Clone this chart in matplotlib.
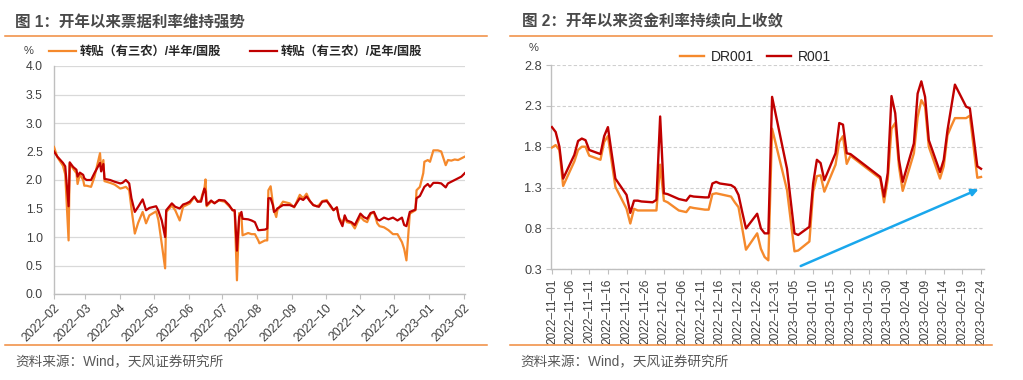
import matplotlib
matplotlib.use("Agg")
import matplotlib.pyplot as plt
import matplotlib.dates as mdates
from matplotlib.lines import Line2D
import pandas as pd

plt.rcParams['font.family'] = ['Liberation Sans', 'Noto Sans CJK SC', 'DejaVu Sans']
plt.rcParams['axes.unicode_minus'] = False

# ---------------- data: chart 1 ----------------
bill_dates = [
    "2022-02-01", "2022-02-04", "2022-02-09", "2022-02-11", "2022-02-14", "2022-02-15",
    "2022-02-18", "2022-02-21", "2022-02-22", "2022-02-24", "2022-02-27", "2022-02-28",
    "2022-03-02", "2022-03-06", "2022-03-09", "2022-03-14", "2022-03-15", "2022-03-17",
    "2022-03-18", "2022-03-23", "2022-03-27", "2022-04-01", "2022-04-03", "2022-04-06",
    "2022-04-09", "2022-04-11", "2022-04-14", "2022-04-17", "2022-04-21", "2022-04-24",
    "2022-04-27", "2022-05-03", "2022-05-05", "2022-05-08", "2022-05-11", "2022-05-12",
    "2022-05-17", "2022-05-20", "2022-05-24", "2022-05-27", "2022-05-30", "2022-06-02",
    "2022-06-06", "2022-06-09", "2022-06-12", "2022-06-13", "2022-06-15", "2022-06-16",
    "2022-06-17", "2022-06-21", "2022-06-24", "2022-06-28", "2022-07-03", "2022-07-07",
    "2022-07-10", "2022-07-12", "2022-07-14", "2022-07-16", "2022-07-18", "2022-07-19",
    "2022-07-24", "2022-07-27", "2022-07-30", "2022-08-02", "2022-08-03", "2022-08-08",
    "2022-08-10", "2022-08-11", "2022-08-13", "2022-08-15", "2022-08-16", "2022-08-18",
    "2022-08-19", "2022-08-24", "2022-08-30", "2022-09-03", "2022-09-08", "2022-09-11",
    "2022-09-14", "2022-09-17", "2022-09-20", "2022-09-23", "2022-09-25", "2022-09-28",
    "2022-10-02", "2022-10-05", "2022-10-08", "2022-10-11", "2022-10-13", "2022-10-16",
    "2022-10-18", "2022-10-20", "2022-10-24", "2022-10-27", "2022-10-29", "2022-11-01",
    "2022-11-04", "2022-11-07", "2022-11-10", "2022-11-13", "2022-11-16", "2022-11-18",
    "2022-11-22", "2022-11-26", "2022-11-30", "2022-12-04", "2022-12-08", "2022-12-10",
    "2022-12-12", "2022-12-15", "2022-12-20", "2022-12-21", "2022-12-24", "2022-12-27",
    "2022-12-28", "2022-12-31", "2023-01-02", "2023-01-05", "2023-01-09", "2023-01-12",
    "2023-01-16", "2023-01-18", "2023-01-21", "2023-01-24", "2023-01-27", "2023-01-30",
    "2023-02-02",
]
half_year = [
    2.58, 2.40, 2.25, 2.10, 0.94, 2.29,
    2.20, 2.12, 1.93, 2.10, 2.00, 1.90,
    1.90, 1.88, 2.05, 2.47, 2.20, 2.35,
    1.98, 1.95, 1.92, 1.85, 1.86, 1.88,
    1.82, 1.50, 1.06, 1.25, 1.44, 1.24,
    1.38, 1.45, 1.30, 0.88, 0.45, 1.44,
    1.55, 1.47, 1.29, 1.53, 1.56, 1.59,
    1.70, 1.62, 1.65, 1.74, 1.85, 2.01,
    1.54, 1.62, 1.60, 1.64, 1.62, 1.54,
    1.48, 1.44, 0.24, 1.42, 1.35, 1.03,
    1.07, 1.05, 1.05, 0.94, 0.89, 0.94,
    0.94, 1.82, 1.89, 1.59, 1.47, 1.35,
    1.47, 1.62, 1.59, 1.52, 1.74, 1.68,
    1.76, 1.63, 1.56, 1.54, 1.56, 1.63,
    1.65, 1.54, 1.47, 1.52, 1.34, 1.24,
    1.35, 1.26, 1.24, 1.15, 1.24, 1.36,
    1.29, 1.26, 1.40, 1.44, 1.24, 1.19,
    1.17, 1.12, 1.05, 1.05, 0.91, 0.79,
    0.59, 1.41, 1.47, 1.82, 1.88, 2.12,
    2.32, 2.35, 2.32, 2.52, 2.52, 2.50,
    2.26, 2.35, 2.34, 2.36, 2.35, 2.38,
    2.41,
]
full_year = [
    2.50, 2.41, 2.30, 2.24, 1.54, 2.31,
    2.23, 2.18, 2.06, 2.13, 2.09, 2.03,
    2.00, 2.00, 2.12, 2.30, 2.15, 2.28,
    2.02, 2.00, 1.97, 1.94, 1.95, 2.00,
    1.94, 1.68, 1.44, 1.53, 1.66, 1.47,
    1.51, 1.54, 1.46, 1.29, 1.00, 1.47,
    1.59, 1.53, 1.50, 1.57, 1.59, 1.62,
    1.71, 1.62, 1.62, 1.70, 1.85, 1.80,
    1.56, 1.64, 1.59, 1.65, 1.64, 1.56,
    1.47, 1.47, 0.76, 1.35, 1.44, 1.32,
    1.31, 1.29, 1.26, 1.12, 1.12, 1.13,
    1.15, 1.68, 1.68, 1.56, 1.44, 1.47,
    1.50, 1.56, 1.56, 1.53, 1.68, 1.65,
    1.71, 1.63, 1.56, 1.54, 1.53, 1.62,
    1.63, 1.56, 1.47, 1.52, 1.32, 1.19,
    1.38, 1.29, 1.26, 1.21, 1.29, 1.41,
    1.35, 1.32, 1.42, 1.44, 1.31, 1.29,
    1.34, 1.31, 1.34, 1.29, 1.34, 1.21,
    1.19, 1.44, 1.48, 1.68, 1.72, 1.84,
    1.88, 1.93, 1.88, 1.95, 1.95, 1.94,
    1.87, 1.94, 1.97, 2.00, 2.03, 2.06,
    2.12,
]
bill_labels = ["转贴（有三农）/半年/国股", "转贴（有三农）/足年/国股"]
bill_yticks = [0.0, 0.5, 1.0, 1.5, 2.0, 2.5, 3.0, 3.5, 4.0]

# ---------------- data: chart 2 ----------------
repo_dates = [
    "2022-11-01", "2022-11-02", "2022-11-03", "2022-11-04", "2022-11-07", "2022-11-08",
    "2022-11-09", "2022-11-10", "2022-11-11", "2022-11-14", "2022-11-15", "2022-11-16",
    "2022-11-17", "2022-11-18", "2022-11-21", "2022-11-22", "2022-11-23", "2022-11-24",
    "2022-11-25", "2022-11-28", "2022-11-29", "2022-11-30", "2022-12-01", "2022-12-02",
    "2022-12-05", "2022-12-06", "2022-12-07", "2022-12-08", "2022-12-09", "2022-12-12",
    "2022-12-13", "2022-12-14", "2022-12-15", "2022-12-16", "2022-12-19", "2022-12-20",
    "2022-12-21", "2022-12-22", "2022-12-23", "2022-12-26", "2022-12-27", "2022-12-28",
    "2022-12-29", "2022-12-30", "2023-01-03", "2023-01-05", "2023-01-06", "2023-01-09",
    "2023-01-10", "2023-01-11", "2023-01-12", "2023-01-13", "2023-01-16", "2023-01-17",
    "2023-01-18", "2023-01-19", "2023-01-20", "2023-01-28", "2023-01-29", "2023-01-30",
    "2023-01-31", "2023-02-01", "2023-02-02", "2023-02-03", "2023-02-06", "2023-02-07",
    "2023-02-08", "2023-02-09", "2023-02-10", "2023-02-13", "2023-02-14", "2023-02-15",
    "2023-02-16", "2023-02-17", "2023-02-20", "2023-02-21", "2023-02-22", "2023-02-23",
    "2023-02-24",
]
dr001 = [
    1.79, 1.82, 1.76, 1.32, 1.62, 1.76,
    1.80, 1.80, 1.69, 1.64, 1.86, 1.93,
    1.62, 1.31, 1.04, 0.86, 1.04, 1.02,
    1.02, 1.02, 1.02, 1.58, 1.14, 1.12,
    1.02, 1.01, 1.00, 1.06, 1.05, 1.03,
    1.03, 1.22, 1.23, 1.22, 1.19, 1.12,
    1.06, 0.80, 0.54, 0.74, 0.55, 0.45,
    0.41, 2.02, 1.27, 0.52, 0.53, 0.64,
    1.25, 1.44, 1.45, 1.25, 1.58, 1.86,
    1.93, 1.59, 1.69, 1.41, 1.12, 1.40,
    2.02, 2.09, 1.56, 1.26, 1.72, 2.16,
    2.37, 2.29, 1.80, 1.41, 1.56, 1.94,
    2.05, 2.15, 2.15, 2.18, 1.80, 1.42,
    1.43,
]
r001 = [
    2.04, 1.98, 1.80, 1.41, 1.70, 1.87,
    1.90, 1.88, 1.76, 1.71, 1.93, 2.04,
    1.72, 1.41, 1.21, 0.99, 1.14, 1.14,
    1.13, 1.12, 1.15, 2.17, 1.23, 1.22,
    1.16, 1.15, 1.14, 1.20, 1.19, 1.18,
    1.18, 1.35, 1.37, 1.35, 1.33, 1.30,
    1.21, 1.00, 0.80, 0.98, 0.80, 0.74,
    0.74, 2.41, 1.53, 0.74, 0.72, 0.82,
    1.35, 1.64, 1.60, 1.39, 1.72, 2.09,
    2.07, 1.72, 1.71, 1.43, 1.19, 1.48,
    2.42, 2.21, 1.64, 1.37, 1.84, 2.45,
    2.60, 2.41, 1.88, 1.49, 1.64, 2.00,
    2.28, 2.56, 2.29, 2.27, 1.92, 1.56,
    1.53,
]
repo_labels = ["DR001", "R001"]
repo_yticks = [0.3, 0.8, 1.3, 1.8, 2.3, 2.8]
arrow_start = ("2023-01-06 16:00", 0.34)
arrow_end = ("2023-02-23 08:00", 1.28)

# ---------------- styles ----------------
ORANGE = "#F5892C"
RED = "#C00000"
TXT = "#404040"
SPINE = "#BFBFBF"
GRID = "#D9D9D9"
SEP = "#F08A3C"

W, H = 1023, 380
fig = plt.figure(figsize=(W / 100, H / 100), dpi=100)


def fx(px):
    return px / W


def fy(py):
    return 1 - py / H


# titles and separators
fig.text(fx(15), fy(22), "图 1：开年以来票据利率维持强势", fontsize=11.2, fontweight="bold",
         color="#4A4A4A", va="center", ha="left")
fig.text(fx(522), fy(22), "图 2：开年以来资金利率持续向上收敛", fontsize=11.2, fontweight="bold",
         color="#4A4A4A", va="center", ha="left")
for x0, x1 in [(5, 487), (510, 992)]:
    fig.add_artist(Line2D([fx(x0), fx(x1)], [fy(36), fy(36)], color=SEP, lw=1.1))
    fig.add_artist(Line2D([fx(x0), fx(x1)], [fy(345), fy(345)], color=SEP, lw=1.1))
fig.text(fx(15), fy(362), "资料来源：Wind，天风证券研究所", fontsize=9.8, color="#595959",
         va="center", ha="left")
fig.text(fx(520), fy(362), "资料来源：Wind，天风证券研究所", fontsize=9.8, color="#595959",
         va="center", ha="left")

# ---------------- chart 1 ----------------
ax1 = fig.add_axes([fx(54), fy(294), fx(464.8) - fx(54), fy(66) - fy(294)])
d1 = pd.to_datetime(bill_dates)
l1, = ax1.plot(d1, half_year, color=ORANGE, lw=1.6, label=bill_labels[0], zorder=3)
l2, = ax1.plot(d1, full_year, color=RED, lw=1.6, label=bill_labels[1], zorder=4)
ax1.set_ylim(0, 4.0)
ax1.set_xlim(pd.Timestamp("2022-02-01"), pd.Timestamp("2023-02-02"))
ax1.set_yticks(bill_yticks)
ax1.yaxis.set_major_formatter(matplotlib.ticker.FormatStrFormatter("%.1f"))
ax1.xaxis.set_major_locator(mdates.MonthLocator())
ax1.xaxis.set_major_formatter(mdates.DateFormatter("%Y\u2013%m"))
ax1.grid(axis="y", color=GRID, lw=0.9)
ax1.set_axisbelow(True)
for s in ["top", "right"]:
    ax1.spines[s].set_visible(False)
for s in ["left", "bottom"]:
    ax1.spines[s].set_color(SPINE)
    ax1.spines[s].set_linewidth(1.0)
ax1.tick_params(axis="y", length=0, pad=8, labelsize=8.8, labelcolor=TXT)
ax1.tick_params(axis="x", length=3.5, color=SPINE, pad=2, labelsize=8.8, labelcolor=TXT)
for lab in ax1.get_xticklabels():
    lab.set_rotation(45)
    lab.set_ha("right")
    lab.set_va("top")
    lab.set_rotation_mode("anchor")
fig.text(fx(29), fy(51), "%", fontsize=8, color=TXT, ha="center", va="center")
ax1.legend(handles=[l1, l2], labels=bill_labels, ncol=2, loc="center left",
           bbox_to_anchor=(fx(49), fy(52)), bbox_transform=fig.transFigure,
           frameon=False, prop={"size": 8.8, "weight": "bold"}, handlelength=2.2,
           handletextpad=0.3, columnspacing=2.4, borderpad=0, borderaxespad=0,
           labelcolor="#262626")

# ---------------- chart 2 ----------------
ax2 = fig.add_axes([fx(550.7), fy(269.3), fx(984) - fx(550.7), fy(65) - fy(269.3)])
d2 = pd.to_datetime(repo_dates)
m1, = ax2.plot(d2, dr001, color=ORANGE, lw=1.7, label=repo_labels[0], zorder=3)
m2, = ax2.plot(d2, r001, color=RED, lw=1.7, label=repo_labels[1], zorder=4)
ax2.set_ylim(0.3, 2.8)
ax2.set_xlim(pd.Timestamp("2022-11-01") - pd.Timedelta(hours=8),
             pd.Timestamp("2023-02-24") + pd.Timedelta(hours=19))
ax2.set_yticks(repo_yticks)
ax2.yaxis.set_major_formatter(matplotlib.ticker.FormatStrFormatter("%.1f"))
ticks2 = pd.date_range("2022-11-01", "2023-02-24", freq="5D")
ax2.set_xticks(ticks2)
ax2.xaxis.set_major_formatter(mdates.DateFormatter("%Y\u2013%m\u2013%d"))
ax2.grid(axis="y", color="#CFCFCF", lw=0.8, ls=(0, (3, 2)))
ax2.set_axisbelow(True)
for s in ["top", "right"]:
    ax2.spines[s].set_visible(False)
for s in ["left", "bottom"]:
    ax2.spines[s].set_color(SPINE)
    ax2.spines[s].set_linewidth(1.0)
ax2.tick_params(axis="y", length=3.5, color=SPINE, pad=3, labelsize=9.2, labelcolor=TXT)
ax2.tick_params(axis="x", length=3.5, color=SPINE, pad=3, labelsize=8.6, labelcolor=TXT,
                labelrotation=90)
fig.text(fx(534), fy(48), "%", fontsize=8, color=TXT, ha="center", va="center")
ax2.legend(handles=[m1, m2], labels=repo_labels, ncol=2, loc="center left",
           bbox_to_anchor=(fx(680), fy(57)), bbox_transform=fig.transFigure,
           frameon=False, fontsize=10, handlelength=1.75, handletextpad=0.45,
           columnspacing=0.95, borderpad=0, borderaxespad=0, labelcolor="#262626")
ax2.annotate("", xy=(pd.Timestamp(arrow_end[0]), arrow_end[1]),
             xytext=(pd.Timestamp(arrow_start[0]), arrow_start[1]),
             arrowprops=dict(arrowstyle="-|>", color="#1AA7EC", lw=1.8,
                             mutation_scale=10, shrinkA=0, shrinkB=0),
             annotation_clip=False, zorder=5)

fig.savefig("out.png", dpi=100)
